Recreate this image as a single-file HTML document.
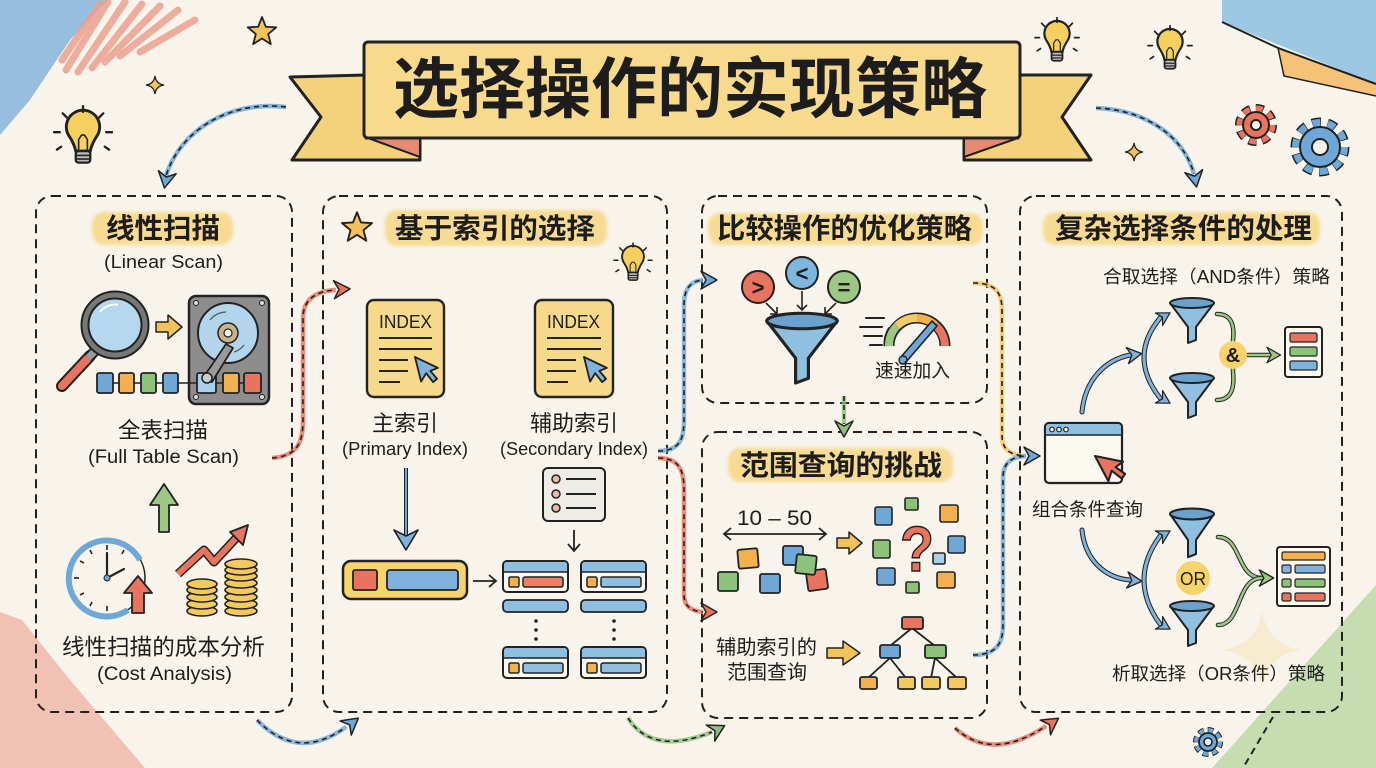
<!DOCTYPE html>
<html><head><meta charset="utf-8"><style>
html,body{margin:0;padding:0;background:#f8f4eb;width:1376px;height:768px;overflow:hidden}
svg{display:block}
text{font-family:"Liberation Sans","Noto Sans CJK SC",sans-serif;fill:#1d1d1d}
.cj{font-family:"Noto Sans CJK SC","Liberation Sans",sans-serif}
</style></head><body>
<svg width="1376" height="768" viewBox="0 0 1376 768" xmlns="http://www.w3.org/2000/svg">
<defs>
 <filter id="soft" x="-10%" y="-30%" width="120%" height="160%"><feGaussianBlur stdDeviation="1.6"/></filter>
 <filter id="blur4"><feGaussianBlur stdDeviation="3"/></filter>
 <g id="bulb">
  <path d="M-10,-2 A11.5,11.5 0 1 1 10,-2 Q6,4 5,9 L-5,9 Q-6,4 -10,-2Z" fill="#f6d05e" stroke="#222" stroke-width="2"/>
  <path d="M-3,8 L-3,1 L-1,-2 L1,-2 L3,1 L3,8" fill="none" stroke="#222" stroke-width="1.1"/>
  <rect x="-5" y="9" width="10" height="8" rx="2" fill="#bbb" stroke="#222" stroke-width="1.6"/>
  <line x1="-5" y1="12" x2="5" y2="12" stroke="#222" stroke-width="1.1"/>
  <line x1="-5" y1="14.5" x2="5" y2="14.5" stroke="#222" stroke-width="1.1"/>
  <g stroke="#222" stroke-width="1.6" stroke-linecap="round">
   <line x1="0" y1="-18" x2="0" y2="-22"/><line x1="-11" y1="-14" x2="-14" y2="-17"/><line x1="11" y1="-14" x2="14" y2="-17"/>
   <line x1="-16" y1="-4" x2="-20" y2="-4"/><line x1="16" y1="-4" x2="20" y2="-4"/>
   <line x1="-15" y1="6" x2="-18" y2="8"/><line x1="15" y1="6" x2="18" y2="8"/>
  </g>
 </g>
 <g id="funnel">
  <path d="M-22,0 L-4,24 L-4,40 L4,37 L4,24 L22,0Z" fill="#8fc0e0" stroke="#222" stroke-width="2" stroke-linejoin="round"/>
  <ellipse cx="0" cy="0" rx="22" ry="5" fill="#6aa2cd" stroke="#222" stroke-width="2"/>
 </g>
 <path id="star" d="M0,-15 L3.82,-5.26 L14.27,-4.64 L6.18,2.01 L8.82,12.14 L0,6.5 L-8.82,12.14 L-6.18,2.01 L-14.27,-4.64 L-3.82,-5.26 Z" fill="#f4c25a" stroke="#222" stroke-width="1.8" stroke-linejoin="round"/>
 <path id="spark" d="M0,-10 Q1.2,-1.2 10,0 Q1.2,1.2 0,10 Q-1.2,1.2 -10,0 Q-1.2,-1.2 0,-10Z" fill="#f4c25a" stroke="#222" stroke-width="1.4"/>
 <path id="spark2" d="M0,-10 Q1.2,-1.2 10,0 Q1.2,1.2 0,10 Q-1.2,1.2 -10,0 Q-1.2,-1.2 0,-10Z" fill="#f4d27c"/>
 <path id="cursor" d="M0,0 L0,22 L6,16 L10,25 L14,23 L10,15 L17,14 Z" stroke="#222" stroke-width="1.6" stroke-linejoin="round"/>
 <path id="ah" d="M3,0 L-13,-9 L-8,0 L-13,9Z" stroke="#222" stroke-width="1.5" stroke-linejoin="round"/>
 <g id="rec">
  <rect x="0" y="0" width="65" height="31" rx="4" fill="#fbf8f0" stroke="#222" stroke-width="2"/>
  <path d="M1,11 L1,4 Q1,1 4,1 L61,1 Q64,1 64,4 L64,11Z" fill="#8fbfe0"/>
  <line x1="0" y1="11" x2="65" y2="11" stroke="#222" stroke-width="1.5"/>
  <rect x="6" y="16" width="10" height="10" rx="1.5" fill="#f2b04e" stroke="#222" stroke-width="1.5"/>
 </g>
</defs>

<rect width="1376" height="768" fill="#f8f4eb"/>

<!-- corner scribbles -->
<g opacity="0.8">
 <polygon points="0,0 108,0 70,40 30,100 0,135" fill="#7fb0dc"/>
 <g stroke="#e98a78" stroke-width="7" stroke-linecap="round" opacity="0.85">
  <line x1="108" y1="2" x2="66" y2="70"/><line x1="125" y1="2" x2="78" y2="72"/><line x1="142" y1="4" x2="92" y2="68"/>
  <line x1="160" y1="6" x2="105" y2="62"/><line x1="178" y1="10" x2="120" y2="56"/><line x1="195" y1="20" x2="140" y2="52"/>
  <line x1="100" y1="4" x2="62" y2="60"/>
 </g>
 <polygon points="0,612 22,620 70,680 145,768 0,768" fill="#e98a78" opacity="0.6"/>
 <polygon points="1222,0 1376,0 1376,84 1222,22" fill="#86bde0"/>
 <polygon points="1278,48 1376,84 1376,96 1284,76" fill="#f4b65c"/>
 <polygon points="1212,768 1376,585 1376,768" fill="#9fcc86" opacity="0.7"/>
</g>
<polyline points="1222,22 1278,48 1376,84" fill="none" stroke="#222" stroke-width="2"/>
<polyline points="1278,48 1284,76 1376,96" fill="none" stroke="#222" stroke-width="1.5"/>
<use href="#spark2" transform="translate(1262,650) scale(4)" opacity="0.25"/>
<line x1="1273" y1="717" x2="1243" y2="768" stroke="#222" stroke-width="2" stroke-dasharray="7 5"/>

<!-- decorations -->
<use href="#star" transform="translate(262,32)"/>
<use href="#spark" transform="translate(155,85) scale(0.9)"/>
<use href="#bulb" transform="translate(83,138) scale(1.45)"/>
<use href="#bulb" transform="translate(1057,42) scale(1.1)"/>
<use href="#bulb" transform="translate(1170,50) scale(1.1)"/>
<use href="#spark" transform="translate(1134,152) scale(0.9)"/>
<!-- gears -->
<g transform="translate(1256,125)">
 <circle r="16" fill="none" stroke="#222" stroke-width="10" stroke-dasharray="7.3 5.3" stroke-dashoffset="0.5"/>
 <circle r="16" fill="none" stroke="#e8735f" stroke-width="7" stroke-dasharray="6.28 6.28"/>
 <circle r="13" fill="#e8735f" stroke="#222" stroke-width="2"/>
 <circle r="5" fill="#f8f4eb" stroke="#222" stroke-width="2"/>
</g>
<g transform="translate(1320,147)">
 <circle r="24" fill="none" stroke="#222" stroke-width="11" stroke-dasharray="8.6 6.5" stroke-dashoffset="0.5"/>
 <circle r="24" fill="none" stroke="#6fa8d8" stroke-width="8" stroke-dasharray="7.54 7.54"/>
 <circle r="20" fill="#6fa8d8" stroke="#222" stroke-width="2"/>
 <circle r="8" fill="#f8f4eb" stroke="#222" stroke-width="2"/>
</g>
<g transform="translate(1208,742)">
 <circle r="11" fill="none" stroke="#222" stroke-width="8" stroke-dasharray="5.2 3.4" stroke-dashoffset="0.4"/>
 <circle r="11" fill="none" stroke="#6fa8d8" stroke-width="6" stroke-dasharray="4.32 4.32"/>
 <circle r="9" fill="#6fa8d8" stroke="#222" stroke-width="1.8"/>
 <circle r="4" fill="#f8f4eb" stroke="#222" stroke-width="1.6"/>
</g>

<!-- banner -->
<polygon points="290,77 366,75 366,138 420,138 420,160 292,160 321,117" fill="#f4d27c" stroke="#222" stroke-width="3" stroke-linejoin="round"/>
<polygon points="368,138 420,138 420,157" fill="#e68a72" stroke="#222" stroke-width="2" stroke-linejoin="round"/>
<polygon points="1018,75 1091,75 1062,117 1091,160 964,160 964,138 1018,138" fill="#f4d27c" stroke="#222" stroke-width="3" stroke-linejoin="round"/>
<polygon points="964,138 1018,138 964,157" fill="#e68a72" stroke="#222" stroke-width="2" stroke-linejoin="round"/>
<rect x="364" y="42" width="656" height="96" rx="4" fill="#f7da8c" stroke="#222" stroke-width="3"/>
<text x="393" y="112" font-size="66" font-weight="bold" textLength="594" lengthAdjust="spacingAndGlyphs">选择操作的实现策略</text>

<!-- top curved arrows -->
<path d="M286,107 C230,100 180,130 166,176" fill="none" stroke="#6fa8d8" stroke-width="4.5" opacity="0.85"/>
<path d="M286,107 C230,100 180,130 166,176" fill="none" stroke="#222" stroke-width="1.6" stroke-dasharray="5 4"/>
<use href="#ah" fill="#6fa8d8" transform="translate(165,185) rotate(100)"/>
<path d="M1096,108 C1150,110 1185,140 1194,174" fill="none" stroke="#6fa8d8" stroke-width="4.5" opacity="0.85"/>
<path d="M1096,108 C1150,110 1185,140 1194,174" fill="none" stroke="#222" stroke-width="1.6" stroke-dasharray="5 4"/>
<use href="#ah" fill="#6fa8d8" transform="translate(1196,184) rotate(80)"/>

<!-- panels -->
<g fill="none" stroke="#222" stroke-width="2" stroke-dasharray="9 6">
 <rect x="36" y="196" width="256" height="516" rx="16"/>
 <rect x="323" y="196" width="344" height="516" rx="16"/>
 <rect x="702" y="196" width="285" height="207" rx="16"/>
 <rect x="702" y="432" width="285" height="286" rx="16"/>
 <rect x="1020" y="196" width="322" height="516" rx="16"/>
</g>

<!-- highlights -->
<g fill="#f7d98a" filter="url(#soft)" opacity="0.9">
 <rect x="92" y="212" width="141" height="33" rx="12"/>
 <rect x="385" y="210" width="222" height="36" rx="12"/>
 <rect x="708" y="213" width="275" height="32" rx="12"/>
 <rect x="728" y="448" width="225" height="34" rx="12"/>
 <rect x="1043" y="212" width="277" height="33" rx="12"/>
</g>

<!-- connectors -->
<g fill="none" stroke-width="4.5" opacity="0.8">
 <path d="M272,458 C298,456 303,442 303,420 L303,318 C303,300 315,291 336,290" stroke="#e8735f"/>
 <path d="M257,720 Q298,762 346,727" stroke="#6fa8d8"/>
 <path d="M658,451 C679,451 684,440 684,420 L684,305 C684,288 691,281 703,280" stroke="#6fa8d8"/>
 <path d="M658,458 C679,458 684,470 684,490 L684,595 C684,606 691,611 703,612" stroke="#e8735f"/>
 <path d="M628,718 Q652,756 712,732" stroke="#8dc27a"/>
 <path d="M844,396 L844,424" stroke="#8dc27a"/>
 <path d="M973,283 C995,283 1002,292 1002,310 L1002,435 C1002,450 1010,455 1026,456" stroke="#f2c35c"/>
 <path d="M973,655 C995,655 1003,645 1003,625 L1003,478 C1003,462 1012,457 1026,456" stroke="#6fa8d8"/>
 <path d="M955,728 Q992,762 1046,726" stroke="#e8735f"/>
</g>
<g fill="none" stroke="#222" stroke-width="1.6" stroke-dasharray="5 4">
 <path d="M272,458 C298,456 303,442 303,420 L303,318 C303,300 315,291 336,290"/>
 <path d="M257,720 Q298,762 346,727"/>
 <path d="M658,451 C679,451 684,440 684,420 L684,305 C684,288 691,281 703,280"/>
 <path d="M658,458 C679,458 684,470 684,490 L684,595 C684,606 691,611 703,612"/>
 <path d="M628,718 Q652,756 712,732"/>
 <path d="M844,396 L844,424"/>
 <path d="M973,283 C995,283 1002,292 1002,310 L1002,435 C1002,450 1010,455 1026,456"/>
 <path d="M973,655 C995,655 1003,645 1003,625 L1003,478 C1003,462 1012,457 1026,456"/>
 <path d="M955,728 Q992,762 1046,726"/>
</g>
<use href="#ah" fill="#e8735f" transform="translate(347,289) rotate(-3)"/>
<use href="#ah" fill="#6fa8d8" transform="translate(356,720) rotate(-38)"/>
<use href="#ah" fill="#6fa8d8" transform="translate(714,280)"/>
<use href="#ah" fill="#e8735f" transform="translate(714,612)"/>
<use href="#ah" fill="#8dc27a" transform="translate(722,727) rotate(-28)"/>
<use href="#ah" fill="#8dc27a" transform="translate(844,434) rotate(90)"/>
<use href="#ah" fill="#6fa8d8" transform="translate(1037,456)"/>
<use href="#ah" fill="#e8735f" transform="translate(1056,720) rotate(-35)"/>

<!-- ===== Panel 1 ===== -->
<text x="106" y="238" font-size="28" font-weight="bold" textLength="114" lengthAdjust="spacingAndGlyphs">线性扫描</text>
<text x="104" y="268" font-size="18" textLength="119" lengthAdjust="spacingAndGlyphs">(Linear Scan)</text>
<!-- magnifier -->
<line x1="90" y1="356" x2="62" y2="386" stroke="#222" stroke-width="12" stroke-linecap="round"/>
<line x1="90" y1="356" x2="62" y2="386" stroke="#e8735f" stroke-width="8" stroke-linecap="round"/>
<line x1="95" y1="351" x2="88" y2="358" stroke="#222" stroke-width="11"/>
<line x1="95" y1="351" x2="88" y2="358" stroke="#999" stroke-width="7"/>
<circle cx="115" cy="325" r="30" fill="#b5d8ee" stroke="#222" stroke-width="9"/>
<circle cx="115" cy="325" r="30" fill="none" stroke="#777" stroke-width="5"/>
<path d="M100,312 A18,18 0 0 1 118,305" fill="none" stroke="#fff" stroke-width="2"/>
<!-- yellow arrow -->
<path d="M156,322 L168,322 L168,315 L182,327 L168,339 L168,332 L156,332Z" fill="#f4c25a" stroke="#222" stroke-width="1.5" stroke-linejoin="round"/>
<!-- disk -->
<rect x="189" y="296" width="80" height="108" rx="7" fill="#8d8d8d" stroke="#222" stroke-width="2.5"/>
<g fill="#ddd" stroke="#222" stroke-width="1"><circle cx="196" cy="303" r="2.5"/><circle cx="262" cy="303" r="2.5"/><circle cx="196" cy="397" r="2.5"/><circle cx="262" cy="397" r="2.5"/></g>
<circle cx="228" cy="333" r="30" fill="#b2d5ec" stroke="#222" stroke-width="2"/>
<path d="M210,320 A22,22 0 0 1 226,312 M244,345 A20,20 0 0 1 234,352" fill="none" stroke="#555" stroke-width="1.2"/>
<circle cx="228" cy="333" r="10" fill="#c9b48a" stroke="#222" stroke-width="1.5"/>
<circle cx="228" cy="333" r="4" fill="#eee" stroke="#222" stroke-width="1.2"/>
<line x1="40" y1="383" x2="198" y2="383" stroke="#222" stroke-width="1.5" transform="translate(57,0)"/>
<g stroke="#222" stroke-width="1.8">
 <rect x="97" y="373" width="16" height="20" rx="2" fill="#6fa8d8"/>
 <rect x="119" y="373" width="15" height="20" rx="2" fill="#f2b04e"/>
 <rect x="141" y="373" width="15" height="20" rx="2" fill="#8dc27a"/>
 <rect x="163" y="373" width="15" height="20" rx="2" fill="#6fa8d8"/>
 <rect x="197" y="373" width="19" height="20" rx="2" fill="#a9d0ea"/>
 <rect x="223" y="373" width="16" height="20" rx="2" fill="#f2b04e"/>
 <rect x="244" y="373" width="17" height="20" rx="2" fill="#e8735f"/>
</g>
<path d="M203,378 L226,344 L233,348 L212,382 Z" fill="#9a9a9a" stroke="#222" stroke-width="1.8" stroke-linejoin="round"/>
<circle cx="207" cy="378" r="5" fill="#ccc" stroke="#222" stroke-width="1.5"/>
<text x="118" y="438" font-size="22" textLength="90" lengthAdjust="spacingAndGlyphs">全表扫描</text>
<text x="88" y="463" font-size="19" textLength="151" lengthAdjust="spacingAndGlyphs">(Full Table Scan)</text>
<!-- green up arrow -->
<path d="M159,532 L159,505 L150,505 L164,484 L178,505 L169,505 L169,532Z" fill="#9cc784" stroke="#222" stroke-width="1.8" stroke-linejoin="round"/>
<!-- clock -->
<circle cx="107" cy="578" r="38" fill="#f8f4eb" stroke="#222" stroke-width="1.5"/>
<path d="M140,560 A38,38 0 1 0 128,610" fill="none" stroke="#6fa8d8" stroke-width="6"/>
<g stroke="#222" stroke-width="1.6"><line x1="107" y1="545" x2="107" y2="550"/><line x1="107" y1="606" x2="107" y2="611"/><line x1="74" y1="578" x2="79" y2="578"/><line x1="90" y1="550" x2="92" y2="554"/><line x1="80" y1="561" x2="84" y2="563"/><line x1="80" y1="595" x2="84" y2="593"/><line x1="90" y1="606" x2="92" y2="602"/><line x1="124" y1="550" x2="122" y2="554"/></g>
<path d="M107,578 L107,553 M107,578 L124,569" stroke="#222" stroke-width="2.2" stroke-linecap="round"/>
<circle cx="107" cy="578" r="3" fill="#6fa8d8" stroke="#222"/>
<path d="M132,613 L132,593 L124,593 L138,576 L152,593 L144,593 L144,613Z" fill="#e8735f" stroke="#222" stroke-width="1.8" stroke-linejoin="round"/>
<!-- zigzag arrow -->
<path d="M178,574 L204,550 L214,562 L238,536" fill="none" stroke="#222" stroke-width="9" stroke-linejoin="round"/>
<path d="M178,574 L204,550 L214,562 L238,536" fill="none" stroke="#e8735f" stroke-width="6" stroke-linejoin="round"/>
<path d="M248,525 L243,545 L230,532Z" fill="#e8735f" stroke="#222" stroke-width="1.8" stroke-linejoin="round"/>
<!-- coins -->
<g fill="#f4c95d" stroke="#222" stroke-width="1.6">
 <ellipse cx="202" cy="611" rx="15" ry="5"/><ellipse cx="202" cy="604" rx="15" ry="5"/><ellipse cx="202" cy="597" rx="15" ry="5"/><ellipse cx="202" cy="590" rx="15" ry="5"/><ellipse cx="202" cy="584" rx="15" ry="5"/>
 <ellipse cx="241" cy="611" rx="16" ry="5"/><ellipse cx="241" cy="604" rx="16" ry="5"/><ellipse cx="241" cy="597" rx="16" ry="5"/><ellipse cx="241" cy="590" rx="16" ry="5"/><ellipse cx="241" cy="583" rx="16" ry="5"/><ellipse cx="241" cy="576" rx="16" ry="5"/><ellipse cx="241" cy="570" rx="16" ry="5"/><ellipse cx="241" cy="564" rx="16" ry="5"/>
</g>
<text x="62" y="655" font-size="22.5" textLength="203" lengthAdjust="spacingAndGlyphs">线性扫描的成本分析</text>
<text x="97" y="680" font-size="19" textLength="135" lengthAdjust="spacingAndGlyphs">(Cost Analysis)</text>

<!-- ===== Panel 2 ===== -->
<use href="#star" transform="translate(357,228) scale(1.05)"/>
<text x="395" y="238" font-size="28" font-weight="bold" textLength="200" lengthAdjust="spacingAndGlyphs">基于索引的选择</text>
<use href="#bulb" transform="translate(633,264) scale(0.95)"/>
<g>
 <rect x="367" y="300" width="77" height="97" rx="7" fill="#f6d98a" stroke="#222" stroke-width="2.4"/>
 <text x="379" y="328" font-size="18" textLength="53" lengthAdjust="spacingAndGlyphs">INDEX</text>
 <g stroke="#222" stroke-width="2"><line x1="379" y1="338" x2="432" y2="338"/><line x1="379" y1="349" x2="432" y2="349"/><line x1="379" y1="360" x2="408" y2="360"/><line x1="379" y1="371" x2="408" y2="371"/><line x1="379" y1="382" x2="400" y2="382"/></g>
 <use href="#cursor" fill="#7fb2dc" transform="translate(415,357) rotate(-14) scale(1.15)"/>
</g>
<g>
 <rect x="535" y="300" width="78" height="97" rx="7" fill="#f6d98a" stroke="#222" stroke-width="2.4"/>
 <text x="547" y="328" font-size="18" textLength="53" lengthAdjust="spacingAndGlyphs">INDEX</text>
 <g stroke="#222" stroke-width="2"><line x1="547" y1="338" x2="601" y2="338"/><line x1="547" y1="349" x2="601" y2="349"/><line x1="547" y1="360" x2="576" y2="360"/><line x1="547" y1="371" x2="576" y2="371"/><line x1="547" y1="382" x2="568" y2="382"/></g>
 <use href="#cursor" fill="#7fb2dc" transform="translate(584,357) rotate(-14) scale(1.15)"/>
</g>
<text x="372" y="431" font-size="22" textLength="66" lengthAdjust="spacingAndGlyphs">主索引</text>
<text x="342" y="455" font-size="18" textLength="126" lengthAdjust="spacingAndGlyphs">(Primary Index)</text>
<text x="530" y="431" font-size="22" textLength="88" lengthAdjust="spacingAndGlyphs">辅助索引</text>
<text x="500" y="455" font-size="18" textLength="148" lengthAdjust="spacingAndGlyphs">(Secondary Index)</text>
<!-- blue down arrow -->
<line x1="406" y1="468" x2="406" y2="540" stroke="#222" stroke-width="4"/>
<line x1="406" y1="468" x2="406" y2="540" stroke="#6fa8d8" stroke-width="2"/>
<path d="M394,530 L406,550 L418,530 L406,536Z" fill="#7fb2dc" stroke="#222" stroke-width="1.6" stroke-linejoin="round"/>
<!-- yellow bar -->
<rect x="343" y="561" width="124" height="38" rx="8" fill="#f6d36b" stroke="#222" stroke-width="2.5"/>
<rect x="353" y="570" width="24" height="20" rx="2" fill="#e8735f" stroke="#222" stroke-width="1.8"/>
<rect x="387" y="570" width="71" height="20" rx="3" fill="#7fb2dc" stroke="#222" stroke-width="1.8"/>
<path d="M473,581 L496,581 M489,575 L496,581 L489,587" fill="none" stroke="#222" stroke-width="1.8"/>
<!-- list card -->
<rect x="543" y="468" width="62" height="53" rx="5" fill="#eeece6" stroke="#222" stroke-width="2"/>
<g fill="#f0b8a0" stroke="#222" stroke-width="1.5"><circle cx="556" cy="479" r="4"/><circle cx="556" cy="494" r="4"/><circle cx="556" cy="508" r="4"/></g>
<g stroke="#222" stroke-width="2"><line x1="566" y1="479" x2="596" y2="479"/><line x1="566" y1="494" x2="596" y2="494"/><line x1="566" y1="508" x2="596" y2="508"/></g>
<path d="M574,530 L574,551 M568,544 L574,551 L580,544" fill="none" stroke="#222" stroke-width="1.8"/>
<!-- records -->
<use href="#rec" transform="translate(503,561)"/>
<rect x="523" y="577" width="40" height="10" rx="2" fill="#ee7f65" stroke="#222" stroke-width="1.5"/>
<use href="#rec" transform="translate(581,561)"/>
<rect x="601" y="577" width="40" height="10" rx="2" fill="#8fbfe0" stroke="#222" stroke-width="1.5"/>
<rect x="503" y="600" width="65" height="12" rx="4" fill="#8fbfe0" stroke="#222" stroke-width="1.8"/>
<rect x="581" y="600" width="65" height="12" rx="4" fill="#8fbfe0" stroke="#222" stroke-width="1.8"/>
<g fill="#222"><circle cx="536" cy="621" r="1.8"/><circle cx="536" cy="630" r="1.8"/><circle cx="536" cy="639" r="1.8"/><circle cx="614" cy="621" r="1.8"/><circle cx="614" cy="630" r="1.8"/><circle cx="614" cy="639" r="1.8"/></g>
<use href="#rec" transform="translate(503,647)"/>
<rect x="523" y="663" width="40" height="10" rx="2" fill="#8fbfe0" stroke="#222" stroke-width="1.5"/>
<use href="#rec" transform="translate(581,647)"/>
<rect x="601" y="663" width="40" height="10" rx="2" fill="#8fbfe0" stroke="#222" stroke-width="1.5"/>

<!-- ===== Panel 3a ===== -->
<text x="717" y="238" font-size="28" font-weight="bold" textLength="255" lengthAdjust="spacingAndGlyphs">比较操作的优化策略</text>
<circle cx="758" cy="287" r="16" fill="#e8735f" stroke="#222" stroke-width="2"/>
<text x="758" y="295" font-size="22" font-weight="bold" text-anchor="middle">&gt;</text>
<circle cx="802" cy="273" r="16" fill="#7fb6de" stroke="#222" stroke-width="2"/>
<text x="802" y="281" font-size="22" font-weight="bold" text-anchor="middle">&lt;</text>
<circle cx="844" cy="287" r="16" fill="#9cc784" stroke="#222" stroke-width="2"/>
<text x="844" y="295" font-size="22" font-weight="bold" text-anchor="middle">=</text>
<g fill="none" stroke="#222" stroke-width="1.6">
 <path d="M766,303 L777,314 M770,314 L777,314 L777,307"/>
 <path d="M802,291 L802,310 M797,305 L802,310 L807,305"/>
 <path d="M836,303 L825,314 M832,314 L825,314 L825,307"/>
</g>
<use href="#funnel" transform="translate(802,321) scale(1.6,1.55)"/>
<!-- speedometer -->
<g stroke="#222" stroke-width="2" stroke-linecap="round"><line x1="866" y1="318" x2="884" y2="318"/><line x1="860" y1="327" x2="882" y2="327"/><line x1="864" y1="336" x2="882" y2="336"/><line x1="870" y1="345" x2="882" y2="345"/></g>
<path d="M889,346 A28,28 0 0 1 893,330" fill="none" stroke="#222" stroke-width="11"/>
<path d="M889,346 A28,28 0 0 1 945,346" fill="none" stroke="#222" stroke-width="11"/>
<path d="M889,346 A28,28 0 0 1 897,326" fill="none" stroke="#9cc784" stroke-width="8"/>
<path d="M897,326 A28,28 0 0 1 917,318" fill="none" stroke="#f3c969" stroke-width="8"/>
<path d="M917,318 A28,28 0 0 1 935,325" fill="none" stroke="#f2b04e" stroke-width="8"/>
<path d="M935,325 A28,28 0 0 1 945,346" fill="none" stroke="#e8735f" stroke-width="8"/>
<path d="M900,358 L932,321 L937,326 L906,362 Z" fill="#6fa8d8" stroke="#222" stroke-width="1.6" stroke-linejoin="round"/>
<circle cx="903" cy="360" r="4" fill="#6fa8d8" stroke="#222" stroke-width="1.4"/>
<text x="875" y="377" font-size="19" textLength="75" lengthAdjust="spacingAndGlyphs">速速加入</text>

<!-- ===== Panel 3b ===== -->
<text x="740" y="475" font-size="28" font-weight="bold" textLength="202" lengthAdjust="spacingAndGlyphs">范围查询的挑战</text>
<text x="737" y="525" font-size="21" textLength="75" lengthAdjust="spacingAndGlyphs">10 – 50</text>
<path d="M724,534 L826,534 M731,528 L724,534 L731,540 M819,528 L826,534 L819,540" fill="none" stroke="#222" stroke-width="1.8"/>
<g stroke="#222" stroke-width="1.8">
 <rect x="738" y="549" width="20" height="19" rx="2" fill="#f2b04e" transform="rotate(-5 748 558)"/>
 <rect x="718" y="572" width="20" height="19" rx="2" fill="#8dc27a"/>
 <rect x="760" y="574" width="20" height="19" rx="2" fill="#6fa8d8"/>
 <rect x="783" y="546" width="20" height="19" rx="2" fill="#6fa8d8"/>
 <rect x="807" y="570" width="20" height="20" rx="2" fill="#e8735f" transform="rotate(-8 817 580)"/>
 <rect x="796" y="555" width="20" height="19" rx="2" fill="#8dc27a" transform="rotate(6 806 564)"/>
</g>
<path d="M837,538 L849,538 L849,532 L862,543 L849,554 L849,548 L837,548Z" fill="#f4c25a" stroke="#222" stroke-width="1.5" stroke-linejoin="round"/>
<g stroke="#222" stroke-width="1.6">
 <rect x="905" y="498" width="13" height="12" rx="1.5" fill="#8dc27a"/>
 <rect x="875" y="507" width="17" height="18" rx="2" fill="#6fa8d8"/>
 <rect x="940" y="505" width="18" height="17" rx="2" fill="#f2b04e"/>
 <rect x="873" y="540" width="17" height="18" rx="2" fill="#8dc27a"/>
 <rect x="948" y="536" width="17" height="17" rx="2" fill="#6fa8d8"/>
 <rect x="933" y="553" width="12" height="11" rx="1.5" fill="#a9d0ea"/>
 <rect x="877" y="568" width="18" height="17" rx="2" fill="#6fa8d8"/>
 <rect x="937" y="572" width="18" height="16" rx="2" fill="#f2b04e"/>
 <rect x="906" y="582" width="13" height="11" rx="1.5" fill="#8dc27a"/>
</g>
<text x="917" y="571" font-size="64" font-weight="bold" text-anchor="middle" style="fill:#e8735f;stroke:#222;stroke-width:1.5px" textLength="34" lengthAdjust="spacingAndGlyphs">?</text>
<text x="716" y="654" font-size="20" textLength="101" lengthAdjust="spacingAndGlyphs">辅助索引的</text>
<text x="727" y="679" font-size="20" textLength="80" lengthAdjust="spacingAndGlyphs">范围查询</text>
<path d="M827,648 L843,648 L843,641 L860,653 L843,665 L843,658 L827,658Z" fill="#f4c25a" stroke="#222" stroke-width="1.5" stroke-linejoin="round"/>
<g stroke="#222" stroke-width="1.8">
 <line x1="912" y1="628" x2="890" y2="646"/><line x1="912" y1="628" x2="935" y2="646"/>
 <line x1="890" y1="658" x2="868" y2="678"/><line x1="890" y1="658" x2="906" y2="678"/>
 <line x1="935" y1="658" x2="931" y2="678"/><line x1="935" y1="658" x2="957" y2="678"/>
 <rect x="902" y="617" width="21" height="12" rx="2" fill="#e8735f"/>
 <rect x="880" y="645" width="20" height="13" rx="2" fill="#6fa8d8"/>
 <rect x="925" y="645" width="21" height="13" rx="2" fill="#8dc27a"/>
 <rect x="860" y="677" width="17" height="12" rx="2" fill="#f2b04e"/>
 <rect x="898" y="677" width="17" height="12" rx="2" fill="#f4c95d"/>
 <rect x="922" y="677" width="18" height="12" rx="2" fill="#f4c95d"/>
 <rect x="948" y="677" width="18" height="12" rx="2" fill="#f4c95d"/>
</g>

<!-- ===== Panel 4 ===== -->
<text x="1055" y="238" font-size="28" font-weight="bold" textLength="257" lengthAdjust="spacingAndGlyphs">复杂选择条件的处理</text>
<text x="1103" y="283" font-size="18" textLength="227" lengthAdjust="spacingAndGlyphs">合取选择（AND条件）策略</text>
<!-- window -->
<rect x="1045" y="423" width="77" height="60" rx="4" fill="#fbf8f0" stroke="#222" stroke-width="2.2"/>
<path d="M1046,435 L1046,427 Q1046,424 1049,424 L1118,424 Q1121,424 1121,427 L1121,435Z" fill="#8fbfe0"/>
<line x1="1045" y1="435" x2="1122" y2="435" stroke="#222" stroke-width="1.6"/>
<g fill="#f8f4eb" stroke="#222" stroke-width="1.2"><circle cx="1052" cy="429.5" r="2.3"/><circle cx="1059" cy="429.5" r="2.3"/><circle cx="1066" cy="429.5" r="2.3"/></g>
<use href="#cursor" fill="#e8735f" transform="translate(1095,456) rotate(-28) scale(1.3)"/>
<text x="1032" y="516" font-size="18.5" textLength="111" lengthAdjust="spacingAndGlyphs">组合条件查询</text>
<!-- blue arrows -->
<g fill="none" stroke-linecap="round">
 <path d="M1082,412 C1085,380 1105,360 1130,355" stroke="#222" stroke-width="5"/>
 <path d="M1082,412 C1085,380 1105,360 1130,355" stroke="#7fb2dc" stroke-width="3"/>
 <path d="M1082,530 C1085,560 1105,578 1130,580" stroke="#222" stroke-width="5"/>
 <path d="M1082,530 C1085,560 1105,578 1130,580" stroke="#7fb2dc" stroke-width="3"/>
 <path d="M1160,318 Q1128,357 1160,398" stroke="#222" stroke-width="5"/>
 <path d="M1160,318 Q1128,357 1160,398" stroke="#7fb2dc" stroke-width="3"/>
 <path d="M1160,536 Q1128,580 1160,624" stroke="#222" stroke-width="5"/>
 <path d="M1160,536 Q1128,580 1160,624" stroke="#7fb2dc" stroke-width="3"/>
 <path d="M1217,314 Q1236,314 1233,340 L1233,372 Q1236,400 1217,400" stroke="#222" stroke-width="4.5"/>
 <path d="M1217,314 Q1236,314 1233,340 L1233,372 Q1236,400 1217,400" stroke="#9cc784" stroke-width="2.6"/>
 <path d="M1218,537 C1242,537 1236,578 1262,578" stroke="#222" stroke-width="4.5"/>
 <path d="M1218,537 C1242,537 1236,578 1262,578" stroke="#9cc784" stroke-width="2.6"/>
 <path d="M1218,625 C1242,625 1236,578 1262,578" stroke="#222" stroke-width="4.5"/>
 <path d="M1218,625 C1242,625 1236,578 1262,578" stroke="#9cc784" stroke-width="2.6"/>
 <path d="M1248,355 L1270,355" stroke="#222" stroke-width="4.5"/>
 <path d="M1248,355 L1270,355" stroke="#9cc784" stroke-width="2.6"/>
</g>
<use href="#ah" fill="#7fb2dc" transform="translate(1139,354) rotate(-8) scale(0.9)"/>
<use href="#ah" fill="#7fb2dc" transform="translate(1139,581) rotate(5) scale(0.9)"/>
<use href="#ah" fill="#7fb2dc" transform="translate(1168,314) rotate(-30) scale(0.8)"/>
<use href="#ah" fill="#7fb2dc" transform="translate(1168,402) rotate(30) scale(0.8)"/>
<use href="#ah" fill="#7fb2dc" transform="translate(1168,532) rotate(-30) scale(0.8)"/>
<use href="#ah" fill="#7fb2dc" transform="translate(1168,628) rotate(30) scale(0.8)"/>
<use href="#ah" fill="#9cc784" transform="translate(1278,355) scale(0.85)"/>
<use href="#ah" fill="#9cc784" transform="translate(1271,578) scale(0.9)"/>
<use href="#funnel" transform="translate(1192,303)"/>
<use href="#funnel" transform="translate(1192,378)"/>
<use href="#funnel" transform="translate(1192,514) scale(1,1.08)"/>
<use href="#funnel" transform="translate(1192,606)"/>
<circle cx="1233" cy="355" r="14" fill="#f6d36b"/>
<text x="1233" y="362" font-size="20" font-weight="bold" text-anchor="middle">&amp;</text>
<circle cx="1193" cy="578" r="17" fill="#f6d36b"/>
<text x="1193" y="585" font-size="18" text-anchor="middle" textLength="26" lengthAdjust="spacingAndGlyphs">OR</text>
<!-- AND result card -->
<rect x="1285" y="327" width="37" height="50" rx="3" fill="#fbf8f0" stroke="#222" stroke-width="2"/>
<g stroke="#222" stroke-width="1.2"><rect x="1290" y="333" width="27" height="9" rx="1.5" fill="#e8735f"/><rect x="1290" y="347" width="27" height="9" rx="1.5" fill="#8dc27a"/><rect x="1290" y="361" width="27" height="9" rx="1.5" fill="#7fb2dc"/></g>
<!-- OR table -->
<rect x="1277" y="547" width="53" height="59" rx="3" fill="#fbf8f0" stroke="#222" stroke-width="2"/>
<g stroke="#222" stroke-width="1.2">
 <rect x="1282" y="552" width="43" height="8" rx="1.5" fill="#f2b04e"/>
 <rect x="1282" y="565" width="9" height="8" rx="1.5" fill="#7fb2dc"/><rect x="1295" y="565" width="30" height="8" rx="1.5" fill="#7fb2dc"/>
 <rect x="1282" y="579" width="9" height="8" rx="1.5" fill="#8dc27a"/><rect x="1295" y="579" width="30" height="8" rx="1.5" fill="#8dc27a"/>
 <rect x="1282" y="593" width="9" height="8" rx="1.5" fill="#e8735f"/><rect x="1295" y="593" width="30" height="8" rx="1.5" fill="#e8735f"/>
</g>
<text x="1112" y="680" font-size="18" textLength="213" lengthAdjust="spacingAndGlyphs">析取选择（OR条件）策略</text>
</svg>
</body></html>
